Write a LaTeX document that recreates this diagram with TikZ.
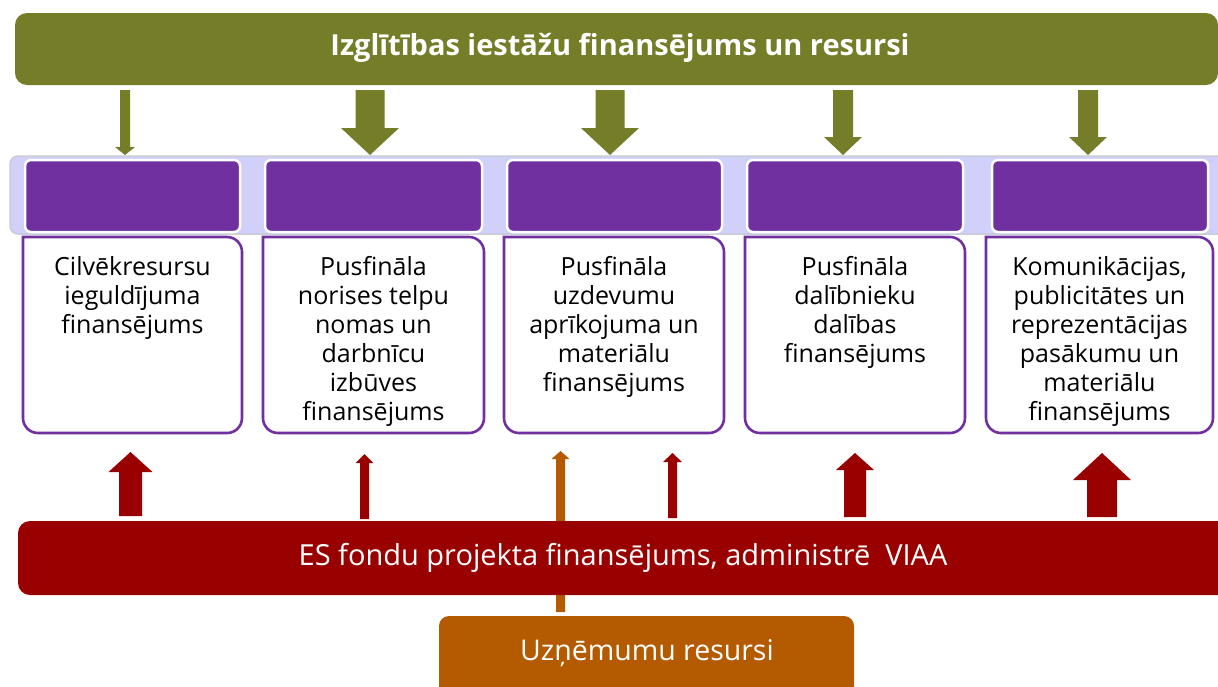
\documentclass[tikz,border=0pt]{standalone}
\usepackage{fontspec}
\setmainfont{Open Sans}
\definecolor{topgreen}{RGB}{117,125,40}
\definecolor{hdrpurple}{RGB}{112,48,160}
\definecolor{esred}{RGB}{153,0,0}
\definecolor{firmorange}{RGB}{180,90,0}
\definecolor{bandblue}{RGB}{208,208,250}
\definecolor{bandgrey}{RGB}{200,204,214}

% block arrow: colour, centre x, start y, head base y, tip y, half shaft, half head
\newcommand{\blkarrow}[7]{%
  \fill[#1] (#2-#6,#3) -- (#2-#6,#4) -- (#2-#7,#4) -- (#2,#5)
    -- (#2+#7,#4) -- (#2+#6,#4) -- (#2+#6,#3) -- cycle;}

\tikzset{
  bodybox/.style={draw=hdrpurple, line width=2.6pt, fill=white,
    rounded corners=15pt},
  hdrbox/.style={draw=white, line width=2.5pt, fill=hdrpurple,
    rounded corners=6pt},
  bodytxt/.style={anchor=north, align=center, inner sep=0pt,
    font=\fontsize{25}{29}\selectfont},
  bartxt/.style={text=white, font=\fontsize{29}{32}\selectfont},
}

\begin{document}
\begin{tikzpicture}[x=1pt,y=-1pt]
\clip (0,0) rectangle (1218,686);
\fill[white] (0,0) rectangle (1218,686);

% ===== Top bar =====
\fill[topgreen, rounded corners=12pt] (15,13) rectangle (1218,85);
\node[text=white, font=\fontsize{29}{32}\selectfont\bfseries] (izgl) at (620,48)
  {Izglītības iestāžu finansējums un resursi};

% ===== Green arrows down =====
\blkarrow{topgreen}{125}{90}{147}{155}{5}{10}
\blkarrow{topgreen}{370}{90}{128}{155}{14.5}{29}
\blkarrow{topgreen}{610}{90}{128}{155}{14.5}{29}
\blkarrow{topgreen}{843}{90}{137}{155}{10}{19}
\blkarrow{topgreen}{1088}{90}{137}{155}{10}{19}

% ===== Band with headers =====
\draw[bandgrey, fill=bandblue, line width=1.5pt, rounded corners=8pt]
  (10,156) rectangle (1240,234);
\foreach \xa/\xb in {25/240, 265/482, 507/722, 747/963, 992/1208} {
  \draw[hdrbox] (\xa,160) rectangle (\xb,232);
}

% ===== Body boxes =====
\foreach \xa/\xb in {23/242, 263/484, 504/724, 745/965, 986/1213} {
  \draw[bodybox] (\xa,237) -- (\xa,433) -- (\xb,433) -- (\xb,237)
    [sharp corners] -- cycle;
}

\node[bodytxt] (txt1) at (132.5,256) {Cilvēkresursu\\ieguldījuma\\finansējums};
\node[bodytxt] (txt2) at (373.5,256) {Pusfināla\\norises telpu\\nomas un\\darbnīcu\\izbūves\\finansējums};
\node[bodytxt] (txt3) at (614,256) {Pusfināla\\uzdevumu\\aprīkojuma un\\materiālu\\finansējums};
\node[bodytxt] (txt4) at (855,256) {Pusfināla\\dalībnieku\\dalības\\finansējums};
\node[bodytxt] (txt5) at (1099.5,256) {Komunikācijas,\\publicitātes un\\reprezentācijas\\pasākumu un\\materiālu\\finansējums};

% ===== Arrows up =====
\blkarrow{firmorange}{560.5}{612}{459}{451}{4.5}{9}
\blkarrow{esred}{130.5}{516}{472}{452}{11.5}{22}
\blkarrow{esred}{364.5}{519}{463}{454}{4.5}{9}
\blkarrow{esred}{672.5}{518}{462}{453}{4.5}{9.5}
\blkarrow{esred}{855}{517}{470}{453}{11}{19}
\blkarrow{esred}{1102}{517}{480}{453}{15}{29}

% ===== Bottom bars =====
\fill[esred, rounded corners=12pt] (18,521) rectangle (1250,595);
\node[bartxt] (esf) at (623,558)
  {ES fondu projekta finansējums, administrē\ \ VIAA};
\fill[firmorange, rounded corners=10pt] (439,616) rectangle (854,710);
\node[bartxt, font=\fontsize{28.5}{32}\selectfont] (uzn) at (647,653)
  {Uzņēmumu resursi};

\end{tikzpicture}
\end{document}
